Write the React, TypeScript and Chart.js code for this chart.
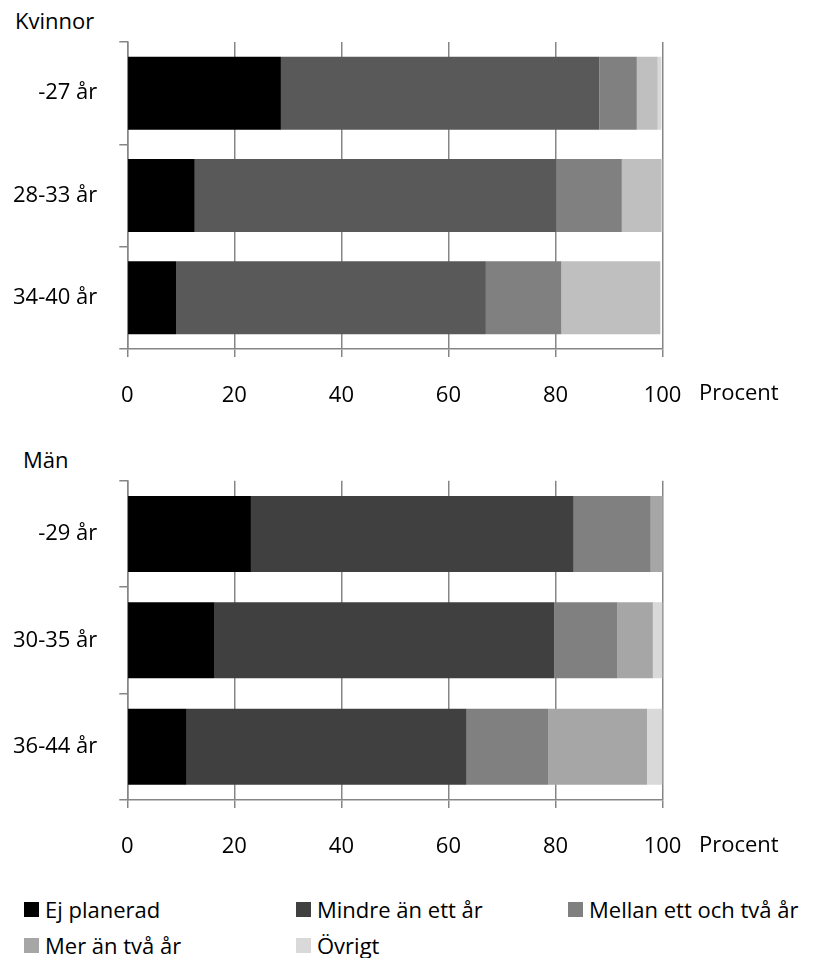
import React, { useEffect, useRef } from "react";
import { Chart, registerables } from "chart.js";

Chart.register(...registerables);

const seriesNames = ["Ej planerad", "Mindre än ett år", "Mellan ett och två år", "Mer än två år", "Övrigt"];

const womenCategories = ["-27 år", "28-33 år", "34-40 år"];
const womenEjPlanerad = [28.7, 12.6, 9.1];
const womenMindre = [59.5, 67.6, 57.9];
const womenMellan = [7.0, 12.2, 14.1];
const womenMer = [3.9, 7.4, 18.5];
const womenOvrigt = [0.7, 0.2, 0];

const menCategories = ["-29 år", "30-35 år", "36-44 år"];
const menEjPlanerad = [23.1, 16.2, 11.1];
const menMindre = [60.3, 63.6, 52.3];
const menMellan = [14.4, 11.8, 15.3];
const menMer = [2.1, 6.6, 18.4];
const menOvrigt = [0.1, 1.8, 2.9];

const xTickValues = [0, 20, 40, 60, 80, 100];
const axisUnitLabel = "Procent";

const womenColors = ["#000000", "#595959", "#808080", "#bfbfbf", "#d9d9d9"];
const menColors = ["#000000", "#404040", "#808080", "#a6a6a6", "#d9d9d9"];
const legendColors = ["#000000", "#404040", "#808080", "#a6a6a6", "#d9d9d9"];

const FONT = "'Open Sans', 'DejaVu Sans', sans-serif";
const GRID = "#868686";

type BarChartProps = {
  top: number;
  height: number;
  plotTop: number;
  plotBottom: number;
  categories: string[];
  series: number[][];
  colors: string[];
};

function StackedBars({ top, height, plotTop, plotBottom, categories, series, colors }: BarChartProps) {
  const ref = useRef<HTMLCanvasElement | null>(null);
  useEffect(() => {
    if (!ref.current) return;
    const chart = new Chart(ref.current, {
      type: "bar",
      data: {
        labels: categories,
        datasets: series.map((d, i) => ({
          label: seriesNames[i],
          data: d,
          backgroundColor: colors[i],
          borderWidth: 0,
          barPercentage: 1,
          categoryPercentage: 0.714,
        })),
      },
      options: {
        indexAxis: "y",
        animation: false,
        responsive: false,
        maintainAspectRatio: false,
        layout: { padding: { top: plotTop - top, right: 831 - 662.5, left: 0, bottom: 0 } },
        plugins: { legend: { display: false }, tooltip: { enabled: false }, title: { display: false } },
        scales: {
          x: {
            stacked: true,
            min: 0,
            max: 100,
            afterBuildTicks: (s: any) => {
              s.ticks = xTickValues.map((v) => ({ value: v }));
            },
            afterFit: (s: any) => {
              s.height = top + height - plotBottom;
            },
            grid: { color: GRID, lineWidth: 1.5, tickLength: 8, drawOnChartArea: true, drawTicks: true },
            border: { display: true, color: GRID, width: 1.5 },
            ticks: { color: "#000", font: { family: FONT, size: 22 }, padding: 26, maxRotation: 0 },
          },
          y: {
            stacked: true,
            afterFit: (s: any) => {
              s.width = 127.3;
            },
            grid: { color: GRID, lineWidth: 1.5, tickLength: 8, drawOnChartArea: false, drawTicks: true, offset: true },
            border: { display: true, color: GRID, width: 1.5 },
            ticks: { color: "#000", font: { family: FONT, size: 22 }, padding: 22 },
          },
        },
      },
    });
    return () => chart.destroy();
  }, []);
  return (
    <canvas
      ref={ref}
      width={831}
      height={height}
      style={{ position: "absolute", left: 0, top, width: 831, height }}
    />
  );
}

const textStyle: React.CSSProperties = {
  position: "absolute",
  fontFamily: FONT,
  fontSize: 22,
  color: "#000",
  lineHeight: "30px",
  height: 30,
  whiteSpace: "nowrap",
};

export default function App() {
  const legendPos = [
    { x: 24, y: 909 },
    { x: 296, y: 909 },
    { x: 568, y: 909 },
    { x: 24, y: 945 },
    { x: 296, y: 945 },
  ];
  return (
    <div style={{ position: "absolute", left: 0, top: 0, width: 831, height: 958, background: "#fff", overflow: "hidden" }}>
      <div style={{ ...textStyle, left: 15, top: 20 - 15 }}>Kvinnor</div>
      <StackedBars
        top={0}
        height={420}
        plotTop={42}
        plotBottom={349}
        categories={womenCategories}
        series={[womenEjPlanerad, womenMindre, womenMellan, womenMer, womenOvrigt]}
        colors={womenColors}
      />
      <div style={{ ...textStyle, left: 699, top: 391 - 15 }}>{axisUnitLabel}</div>

      <div style={{ ...textStyle, left: 23, top: 459 - 15 }}>Män</div>
      <StackedBars
        top={440}
        height={440}
        plotTop={480.7}
        plotBottom={800}
        categories={menCategories}
        series={[menEjPlanerad, menMindre, menMellan, menMer, menOvrigt]}
        colors={menColors}
      />
      <div style={{ ...textStyle, left: 699, top: 843 - 15 }}>{axisUnitLabel}</div>

      {seriesNames.map((name, i) => (
        <div key={name} style={{ position: "absolute", left: legendPos[i].x, top: legendPos[i].y - 15, height: 30 }}>
          <div
            style={{
              position: "absolute",
              left: 0,
              top: 7.5,
              width: 15,
              height: 15,
              background: legendColors[i],
            }}
          />
          <div style={{ ...textStyle, left: 21, top: 0 }}>{name}</div>
        </div>
      ))}
    </div>
  );
}
